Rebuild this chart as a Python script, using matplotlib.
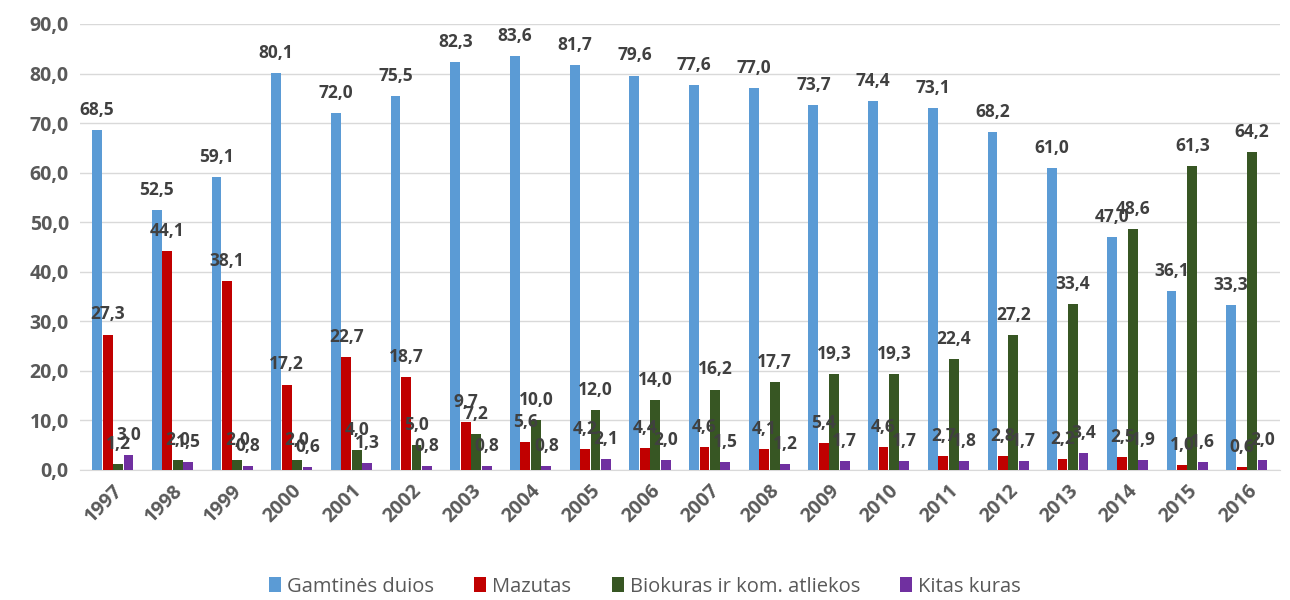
import matplotlib
matplotlib.use('Agg')
import matplotlib.pyplot as plt
import numpy as np

plt.rcParams['font.family'] = ['Open Sans', 'DejaVu Sans']

years = ['1997', '1998', '1999', '2000', '2001', '2002', '2003', '2004', '2005', '2006',
         '2007', '2008', '2009', '2010', '2011', '2012', '2013', '2014', '2015', '2016']
gamtines_duios = [68.5, 52.5, 59.1, 80.1, 72.0, 75.5, 82.3, 83.6, 81.7, 79.6,
                  77.6, 77.0, 73.7, 74.4, 73.1, 68.2, 61.0, 47.0, 36.1, 33.3]
mazutas = [27.3, 44.1, 38.1, 17.2, 22.7, 18.7, 9.7, 5.6, 4.2, 4.4,
           4.6, 4.1, 5.4, 4.6, 2.7, 2.8, 2.2, 2.5, 1.0, 0.6]
biokuras = [1.2, 2.0, 2.0, 2.0, 4.0, 5.0, 7.2, 10.0, 12.0, 14.0,
            16.2, 17.7, 19.3, 19.3, 22.4, 27.2, 33.4, 48.6, 61.3, 64.2]
kitas = [3.0, 1.5, 0.8, 0.6, 1.3, 0.8, 0.8, 0.8, 2.1, 2.0,
         1.5, 1.2, 1.7, 1.7, 1.8, 1.7, 3.4, 1.9, 1.6, 2.0]

series = [
    ('Gamtinės duios', gamtines_duios, '#5b9bd5'),
    ('Mazutas', mazutas, '#c00000'),
    ('Biokuras ir kom. atliekos', biokuras, '#375623'),
    ('Kitas kuras', kitas, '#7030a0'),
]

fig = plt.figure(figsize=(12.9, 6), dpi=100)
ax = fig.add_axes([0.062, 0.217, 0.93, 0.743])

x = np.arange(len(years))
w = 0.165
for i, (name, vals, col) in enumerate(series):
    pos = x + (i - 1.5) * (w + 0.01)
    ax.bar(pos, vals, width=w, color=col, label=name, zorder=3)
    for p, v in zip(pos, vals):
        ax.annotate(f'{v:.1f}'.replace('.', ','), (p, v), xytext=(0, 8),
                    textcoords='offset points', ha='center', va='bottom',
                    fontsize=12.5, fontweight='bold', color='#404040', zorder=4)

ax.set_ylim(0, 90)
ax.set_xlim(-0.55, len(years) - 0.45)
ax.set_yticks(np.arange(0, 91, 10))
ax.set_yticklabels([f'{t:.1f}'.replace('.', ',') for t in np.arange(0, 91, 10)])
ax.set_xticks(x)
ax.set_xticklabels(years, rotation=45, ha='right', rotation_mode='anchor')
for lab in ax.get_xticklabels() + ax.get_yticklabels():
    lab.set_fontsize(14)
    lab.set_fontweight('bold')
    lab.set_color('#595959')
ax.tick_params(axis='both', length=0, pad=8)
ax.grid(axis='y', color='#d9d9d9', linewidth=1, zorder=0)
for s in ['top', 'right', 'left']:
    ax.spines[s].set_visible(False)
ax.spines['bottom'].set_color('#d9d9d9')

leg = fig.legend(loc='lower center', bbox_to_anchor=(0.5, -0.025), ncol=4, frameon=False,
                 fontsize=14.5, handlelength=0.6, handleheight=0.75, handletextpad=0.3,
                 columnspacing=2.0)
for t in leg.get_texts():
    t.set_color('#595959')

fig.savefig('out.png', dpi=100)
